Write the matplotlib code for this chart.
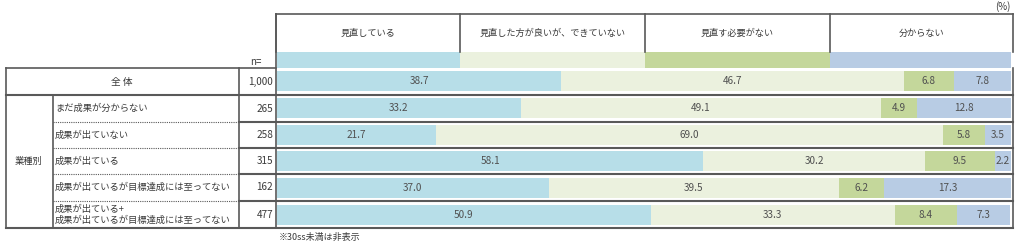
import matplotlib.pyplot as plt
from matplotlib.patches import Rectangle

plt.rcParams['font.family'] = ['Noto Sans CJK JP', 'DejaVu Sans']

# data
categories = ['見直している', '見直した方が良いが、できていない', '見直す必要がない', '分からない']
colors = ['#B7DEE8', '#EBF1DE', '#C4D79B', '#B8CCE4']
row_labels = ['全 体', 'まだ成果が分からない', '成果が出ていない', '成果が出ている',
              '成果が出ているが目標達成には至ってない',
              '成果が出ている+\n成果が出ているが目標達成には至ってない']
n_values = ['1,000', '265', '258', '315', '162', '477']
s1 = [38.7, 33.2, 21.7, 58.1, 37.0, 50.9]
s2 = [46.7, 49.1, 69.0, 30.2, 39.5, 33.3]
s3 = [6.8, 4.9, 5.8, 9.5, 6.2, 8.4]
s4 = [7.8, 12.8, 3.5, 2.2, 17.3, 7.3]
series = [s1, s2, s3, s4]

W, H = 1017, 244
fig = plt.figure(figsize=(W / 100, H / 100), dpi=100)

# overlay axes in pixel coords for the table
ov = fig.add_axes([0, 0, 1, 1])
ov.set_xlim(0, W)
ov.set_ylim(H, 0)
ov.axis('off')

txt = '#3a3a3a'
lc = '#595959'

# row boundaries (pixels)
rows_y = [68, 95, 122, 148, 174, 201, 228]
bx0, bx1 = 277, 1011

# bars axes
ax = fig.add_axes([bx0 / W, (H - rows_y[-1]) / H, (bx1 - bx0) / W, (rows_y[-1] - rows_y[0]) / H])
ax.set_xlim(0, 100)
ax.set_ylim(len(row_labels) - 0.5, -0.5)
ax.axis('off')
ypos = list(range(len(row_labels)))
left = [0] * len(row_labels)
for vals, c in zip(series, colors):
    ax.barh(ypos, vals, left=left, height=0.75, color=c, edgecolor='none')
    for i, v in enumerate(vals):
        ax.text(left[i] + v / 2, i, f'{v:.1f}', ha='center', va='center',
                fontsize=7.2, color='#505050')
    left = [l + v for l, v in zip(left, vals)]

# header box
hx = [276, 460, 645, 830, 1013]
ov.plot([276, 1013], [14, 14], color=lc, lw=1.2)
for x in hx:
    ov.plot([x, x], [14, 52], color=lc, lw=1.2)
for i, name in enumerate(categories):
    ov.text((hx[i] + hx[i + 1]) / 2, 33, name, ha='center', va='center', fontsize=6.6, color=txt)
    x0 = hx[i] if i else bx0
    x1 = hx[i + 1] if i < 3 else bx1
    ov.add_patch(Rectangle((x0, 52), x1 - x0, 16, color=colors[i], lw=0))
ov.text(1011, 7, '(%)', ha='right', va='center', fontsize=7, color=txt)
ov.text(256, 62, 'n=', ha='center', va='center', fontsize=7, color=txt)

# left vertical of bar area and right edge
ov.plot([276, 276], [14, 228], color=lc, lw=1.2)
ov.plot([1013, 1013], [68, 228], color=lc, lw=1.2)

# left table
ov.plot([6, 276], [68, 68], color=lc, lw=1.2)
ov.plot([6, 1013], [95, 95], color=lc, lw=1.5)
ov.plot([6, 1013], [228, 228], color=lc, lw=1.5)
ov.plot([6, 6], [68, 228], color=lc, lw=1.2)
ov.plot([239, 239], [68, 228], color=lc, lw=1.2)
ov.plot([53, 53], [95, 228], color=lc, lw=1.2)
for y in rows_y[2:-1]:
    ov.plot([53, 239], [y, y], color=lc, lw=0.8, ls=(0, (1, 1)))
    ov.plot([239, 1013], [y, y], color=lc, lw=1.5)

for i, lab in enumerate(row_labels):
    yc = (rows_y[i] + rows_y[i + 1]) / 2
    if i == 0:
        ov.text(122, yc, lab, ha='center', va='center', fontsize=7, color=txt)
    else:
        ov.text(55, yc, lab, ha='left', va='center', fontsize=6.7, color=txt, linespacing=1.25)
    ov.text(273, yc, n_values[i], ha='right', va='center', fontsize=7.2, color=txt)

ov.text(29, (95 + 228) / 2, '業種別', ha='center', va='center', fontsize=6.7, color=txt)
ov.text(279, 237, '※30ss未満は非表示', ha='left', va='center', fontsize=6.5, color=txt)

fig.savefig('out.png', dpi=100)
